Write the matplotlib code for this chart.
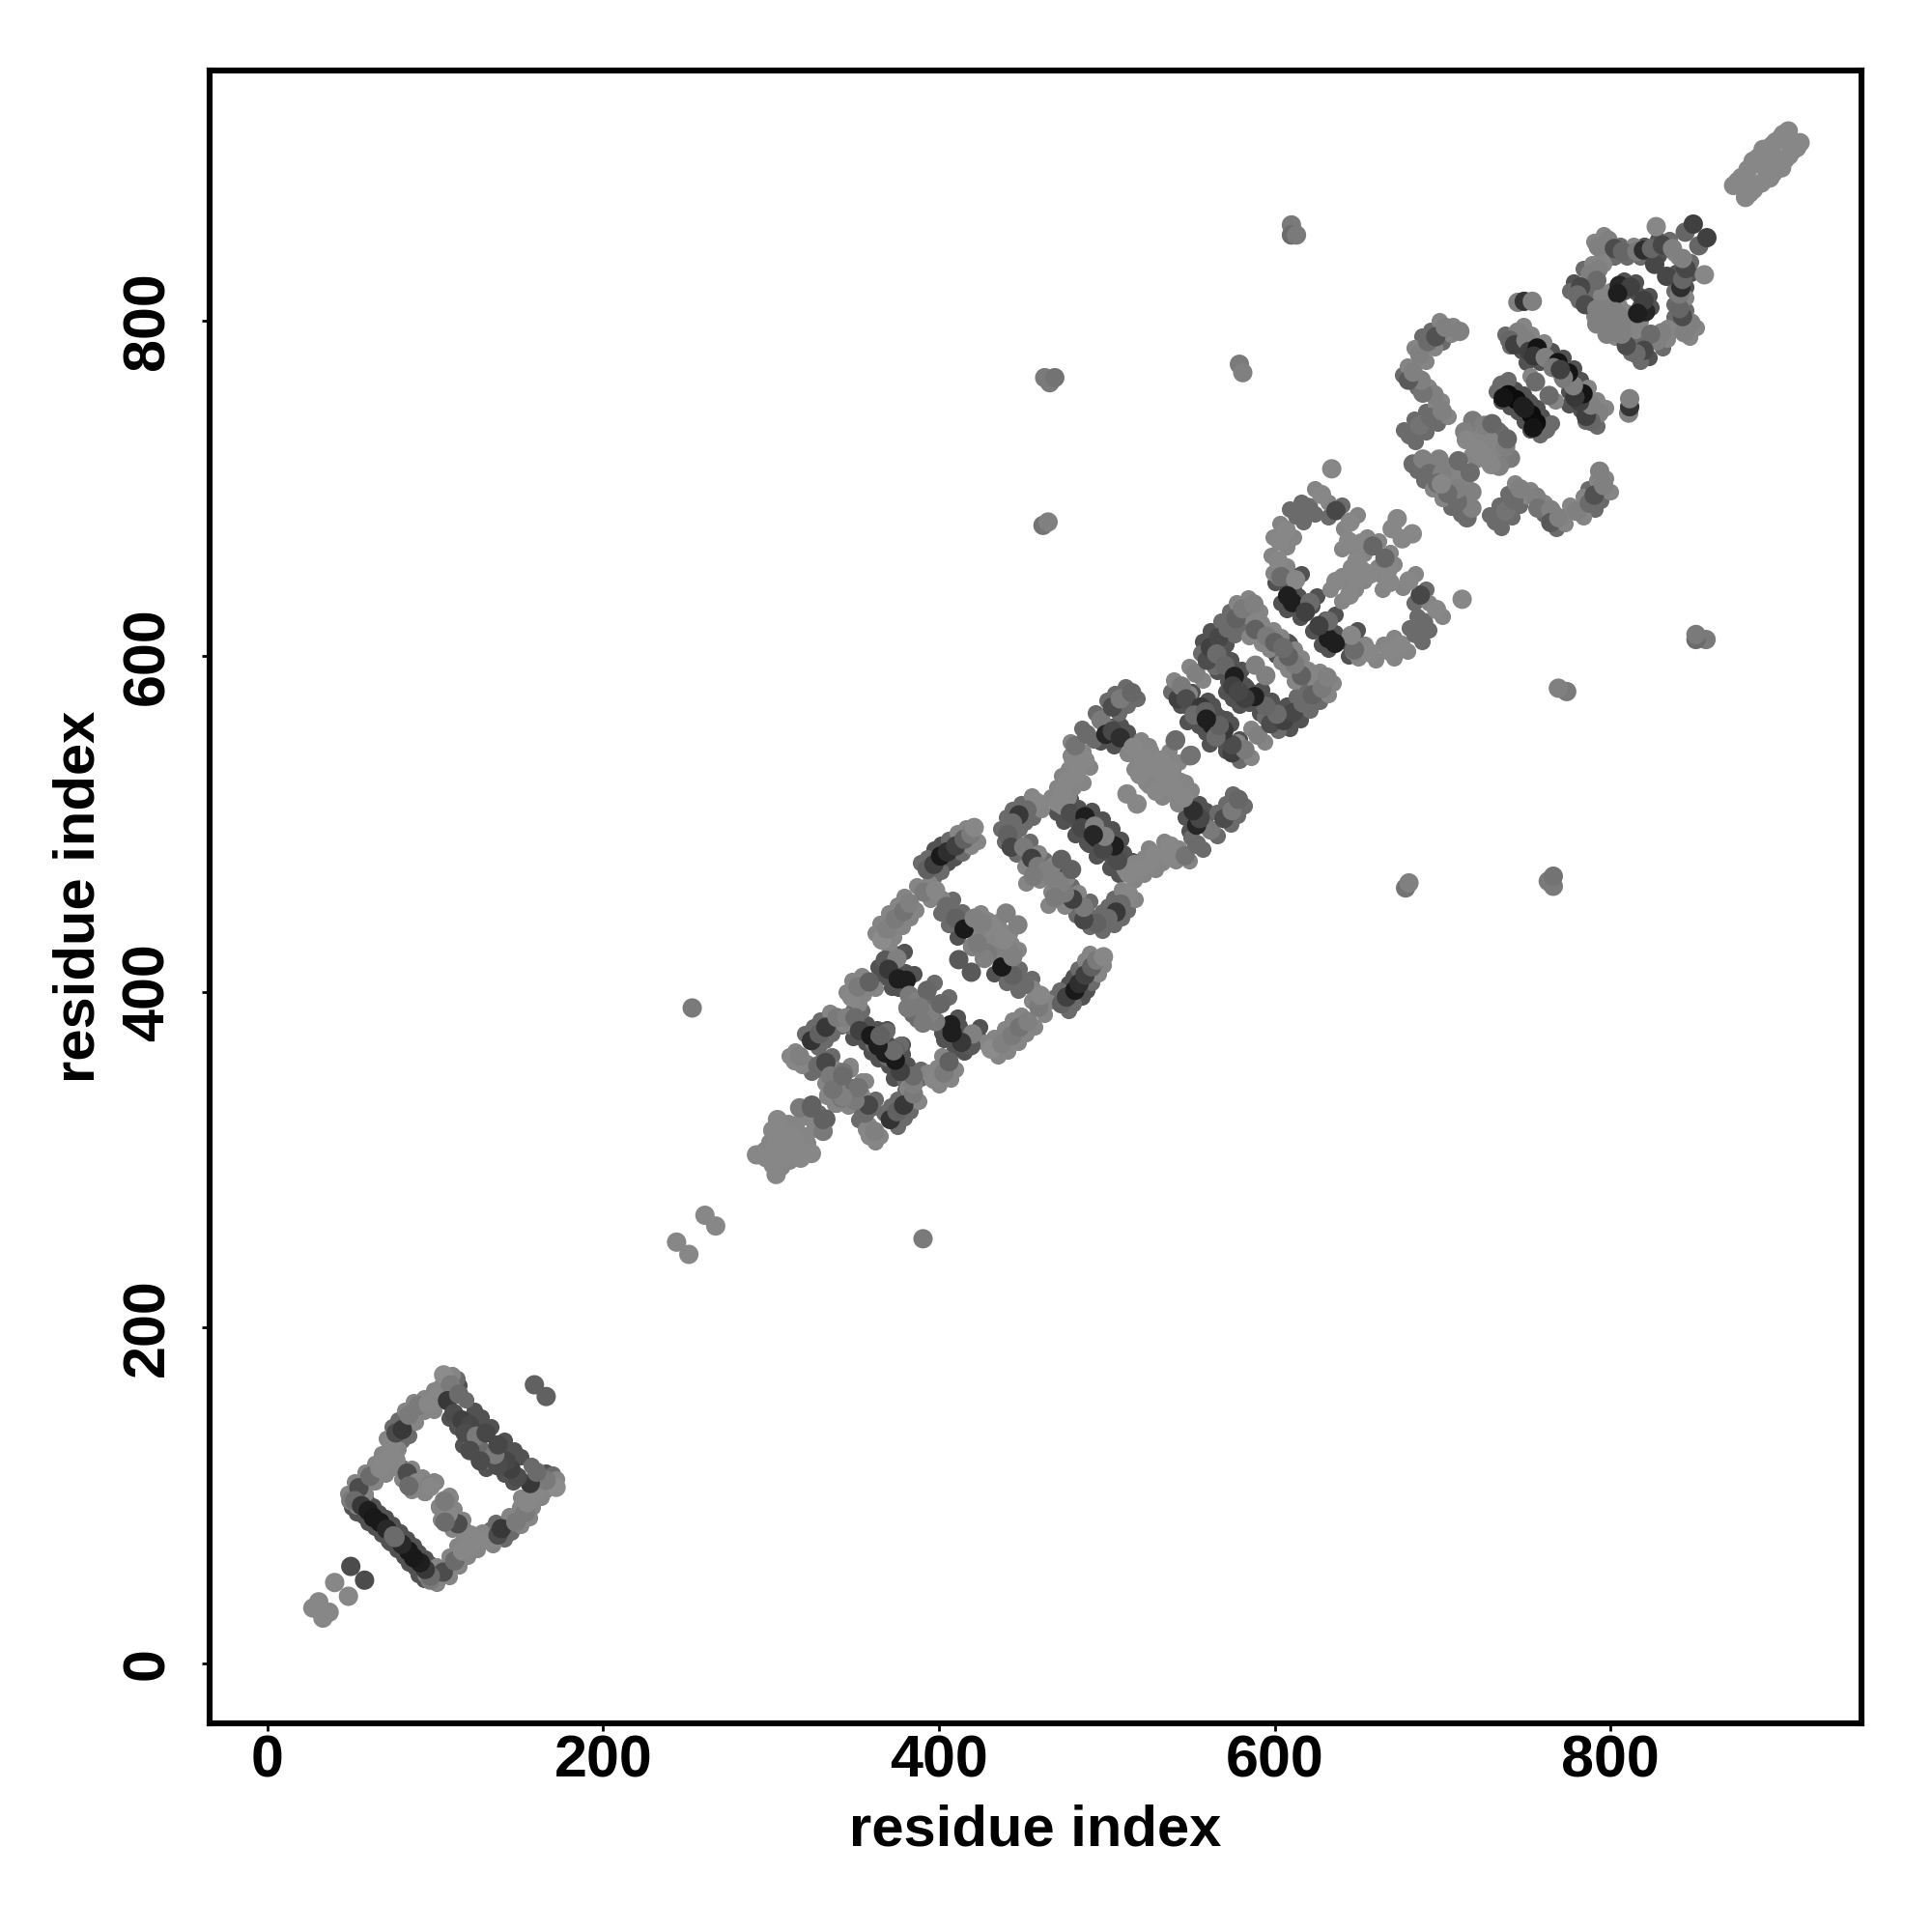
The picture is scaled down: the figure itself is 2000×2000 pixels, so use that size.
#!/usr/bin/env python

import numpy as np
import matplotlib
matplotlib.use("Agg")
import matplotlib.pyplot as plt

# contacts are read off the upper triangle only, the map is symmetric
# score is the gray level of the dot (0 black, 1 white)

# isolated contacts
lone_x = [27, 30.5, 40, 49.6, 159, 243.7, 260.6, 253, 462, 465, 463, 466, 469, 579, 581, 610, 610, 613, 634]
lone_y = [33, 36.7, 48.2, 57.8, 166, 251, 267, 390.5, 678, 680, 766, 763, 766, 774, 769, 857, 851, 851, 711.7]
lone_s = [0.53, 0.53, 0.53, 0.30, 0.38, 0.53, 0.53, 0.48, 0.45, 0.50, 0.48, 0.48, 0.45, 0.48, 0.50, 0.48, 0.42, 0.48, 0.53]

# first domain, 50-170
dom1_x = [49.6, 54.4, 61.1, 66.9, 70.7, 76.5, 73.6, 76.5, 80.3, 84.2, 89.9, 95.7, 101.4,
          52, 56, 60, 63, 67, 71, 75,
          83.2, 89, 84.2, 96.6, 105.3,
          104.9, 109, 107.2, 111, 115.8, 120.6, 117.7, 124.4, 130.2, 120.6, 113.9]
dom1_y = [97, 104.7, 111.5, 116.2, 121, 121, 130.6, 137.3, 139.3, 147.9, 153.6, 154.6, 159.4,
          97, 94, 91, 87, 84, 80, 76,
          113.4, 107.6, 105.7, 105.7, 97,
          171.9, 166, 156.5, 148.9, 145, 142.1, 137.3, 135.4, 137.3, 126.8, 160.4]
dom1_s = [0.48, 0.30, 0.42, 0.53, 0.53, 0.53, 0.53, 0.30, 0.22, 0.48, 0.48, 0.53, 0.53,
          0.42, 0.22, 0.12, 0.10, 0.10, 0.16, 0.42,
          0.30, 0.53, 0.42, 0.48, 0.53,
          0.55, 0.48, 0.22, 0.30, 0.25, 0.28, 0.30, 0.48, 0.28, 0.30, 0.42]

# cluster near 300 and the first long repeat
dom2_x = [291.3, 297, 301, 302, 303.8, 304.8, 307.6, 313.4, 317, 324, 332.6,
          314.3, 317, 324, 328.7, 332.6, 339.3, 348, 351.7, 358.5,
          327.8, 332.6, 335.4, 343, 337.4, 342, 350,
          345, 350, 352.7, 359.4, 365, 368, 374]
dom2_y = [303, 301.3, 317.6, 308, 324, 308, 315.7, 313.8, 331, 331, 324.3,
          359, 361.7, 371, 375, 379, 384.8, 397, 403, 406,
          356, 358, 350, 352, 342.6, 336.8, 342.6,
          384.7, 384.7, 377, 374, 373, 363.7, 365]
dom2_s = [0.53, 0.53, 0.53, 0.53, 0.53, 0.53, 0.53, 0.53, 0.48, 0.38, 0.38,
          0.53, 0.50, 0.20, 0.38, 0.22, 0.48, 0.53, 0.48, 0.38,
          0.42, 0.28, 0.48, 0.45, 0.50, 0.45, 0.42,
          0.50, 0.42, 0.25, 0.10, 0.42, 0.12, 0.38]

dom3_x = [368, 375, 370, 375.7, 380.5, 382.4, 387, 391, 393, 381.5,
          366, 369, 374, 379, 382.5, 391, 398,
          393, 397, 401, 405, 410, 415, 419, 421,
          404.5, 410, 415, 421, 425.6, 431, 420, 429, 439, 441, 440, 411.8]
dom3_y = [419, 420, 413.5, 407.8, 407, 398, 394.4, 388.6, 401, 390.5,
          431, 437.5, 443.5, 448, 453, 459.5, 460.5,
          473, 476, 481, 483.5, 487, 491, 494, 498,
          451, 444, 437.5, 444, 440, 439, 427, 423, 432, 426, 447, 419.3]
dom3_s = [0.35, 0.50, 0.22, 0.12, 0.12, 0.48, 0.50, 0.48, 0.40, 0.48,
          0.55, 0.50, 0.48, 0.45, 0.50, 0.48, 0.53,
          0.38, 0.25, 0.10, 0.18, 0.25, 0.38, 0.48, 0.53,
          0.42, 0.38, 0.10, 0.50, 0.50, 0.53, 0.50, 0.48, 0.53, 0.50, 0.50, 0.35]

dom4_x = [458.2, 452.4, 447.6, 443.8, 441, 443,
          450.5, 455.3, 459, 464, 456.3, 467.8, 473,
          470.7, 473.5, 476.4, 482, 480.2, 487, 481.2, 488, 496.5, 503.3, 508, 514.8,
          473.5, 478.3, 487, 485, 492.7, 493.7,
          499.4, 503.3, 508, 515.7, 521.5, 527.2, 532, 540.7, 550.2, 519.6, 512]
dom4_y = [513, 508.4, 505.5, 500.7, 494, 486.3,
          486.3, 479.6, 474.8, 472, 469, 468, 479,
          513, 519, 525.7, 528.5, 538, 538, 546.7, 553.5, 562, 569.8, 574.6, 578.4,
          511.3, 506.5, 504.5, 497.8, 498.8, 492,
          553.5, 555.4, 551.5, 545.8, 540, 534.3, 538, 549.6, 541, 529.5, 518]
dom4_s = [0.53, 0.42, 0.22, 0.42, 0.38, 0.28,
          0.48, 0.25, 0.48, 0.50, 0.48, 0.50, 0.38,
          0.53, 0.53, 0.53, 0.53, 0.53, 0.53, 0.45, 0.42, 0.48, 0.30, 0.48, 0.40,
          0.53, 0.30, 0.12, 0.28, 0.50, 0.15,
          0.15, 0.28, 0.18, 0.53, 0.53, 0.53, 0.53, 0.45, 0.42, 0.53, 0.53]

dom5_x = [542.5, 544.4, 553, 559.8, 561.7, 566.5, 572.2, 577, 580.9, 587.6,
          547.3, 556, 552, 558.8, 562.6,
          565.5, 570.3, 576, 575, 579,
          588.5, 595.2, 600, 604.8, 588.5]
dom5_y = [574.6, 582.3, 590, 597.6, 605.3, 611, 616.8, 622.5, 628.3, 631.2,
          574.6, 569.8, 565, 567, 559.3,
          601.4, 594.7, 588, 582.3, 578.4,
          616, 612, 608.2, 605.3, 594.7]
dom5_s = [0.25, 0.48, 0.50, 0.30, 0.25, 0.28, 0.42, 0.38, 0.48, 0.50,
          0.30, 0.22, 0.42, 0.38, 0.12,
          0.42, 0.40, 0.12, 0.25, 0.28,
          0.38, 0.48, 0.38, 0.42, 0.50]

dom6_x = [603, 602, 603, 606.8, 613.5, 620.2, 627.9,
          636.5, 645, 644, 651.8, 658.5, 649, 646, 636.5, 648, 673, 670,
          603.9, 612.5, 607.7, 610.6, 621, 618.3]
dom6_y = [647.5, 657, 668.6, 675.3, 684, 688.7, 696.4,
          686.8, 680, 668.6, 667.6, 665.7, 657, 649.4, 644.6, 647.5, 682, 676,
          647.5, 645.6, 636, 632, 632, 626.4]
dom6_s = [0.50, 0.53, 0.53, 0.53, 0.42, 0.42, 0.53,
          0.28, 0.53, 0.53, 0.53, 0.40, 0.53, 0.53, 0.53, 0.53, 0.53, 0.53,
          0.42, 0.53, 0.12, 0.12, 0.42, 0.25]

dom7_x = [680.6, 686.4, 693, 699.8, 695, 688.3, 687.3, 679.7, 682.5, 686.4, 691.2, 696, 701.7, 710.3,
          718, 713.2, 724.7, 729.5, 720, 714.2, 709.4, 682.5, 688.3, 697.9, 692, 699.8, 697, 702.7,
          744.9, 740, 743, 749.7, 751.6, 756.4, 754.4, 761.2, 768.8, 766, 770.8, 755.4,
          735.3, 739.1, 743.9, 747.7, 736.2, 744.9, 748.7, 753.5]
dom7_y = [731.9, 737.6, 742.4, 746.2, 755.8, 756.8, 764.5, 764.5, 769.3, 779.8, 787.5, 790.4, 796, 793.6,
          740.5, 733.8, 737.6, 738.6, 724, 729, 716.5, 714.6, 717.5, 717.5, 708.9, 708.9, 703.1, 699.3,
          793.2, 788.4, 785.6, 788.4, 781.7, 783.7, 778.9, 778, 775, 772, 770.2, 763.5,
          761.6, 755.8, 752.9, 749, 754, 810.9, 811.5, 811.5]
dom7_s = [0.42, 0.45, 0.42, 0.50, 0.50, 0.45, 0.50, 0.35, 0.50, 0.50, 0.42, 0.32, 0.50, 0.50,
          0.48, 0.50, 0.50, 0.40, 0.53, 0.53, 0.42, 0.42, 0.50, 0.50, 0.42, 0.50, 0.42, 0.53,
          0.50, 0.40, 0.25, 0.50, 0.25, 0.08, 0.22, 0.50, 0.08, 0.48, 0.25, 0.42,
          0.42, 0.05, 0.05, 0.12, 0.08, 0.50, 0.20, 0.50]

dom8_x = [792.8, 798.6, 802.4, 807.2, 815.8, 819.7, 826.4, 824.5, 831, 837,
          805.3, 812, 804.3,
          792.8, 788, 791.9, 782.3, 780.3, 785.1, 791.9, 797.6, 791.9, 798.6, 805.3,
          827.3, 844.6, 849.4]
dom8_y = [844, 848, 843, 841.2, 841.2, 842, 833.5, 843, 845, 843,
          821, 820, 816.2,
          830.6, 827.8, 824, 820, 815.3, 809.5, 806.7, 806.7, 798, 797, 802.8,
          856, 852.7, 857.5]
dom8_s = [0.50, 0.50, 0.30, 0.40, 0.48, 0.18, 0.28, 0.40, 0.28, 0.50,
          0.15, 0.25, 0.12,
          0.50, 0.50, 0.42, 0.28, 0.42, 0.30, 0.50, 0.50, 0.50, 0.50, 0.50,
          0.53, 0.40, 0.25]

# C terminal stretch along the diagonal
dom9_x = [873.4, 878.2, 885, 893.6, 898.4, 901.2, 906, 876, 882, 888, 891, 896, 903, 881, 890, 896]
dom9_y = [880.5, 885.3, 895, 900.6, 906.4, 908.3, 913, 883, 890, 897, 902, 904, 911, 884, 893, 899]
dom9_s = [0.53, 0.53, 0.53, 0.53, 0.53, 0.53, 0.53, 0.53, 0.53, 0.53, 0.53, 0.53, 0.53, 0.53, 0.53, 0.53]

# the rows at the edge of each band, lying under the dots above
rim_light = [(48, 101), (52, 108), (58, 114), (64, 119), (68, 125), (71, 134), (82, 151), (87, 156), (93, 158), (99, 163),
             (53, 94), (58, 101), (64, 108), (70, 113), (75, 117), (78, 128), (88, 144), (93, 150), (99, 151),
             (86, 116), (92, 111), (99, 109), (108, 100), (80, 110), (86, 103), (93, 102), (102, 94),
             (110, 172), (103, 165),
             (299, 311), (305, 320), (310, 322), (308, 305), (314, 320), (318, 325), (312, 307), (296, 306), (322, 326),
             (320, 315), (316, 309),
             (311, 362), (314, 365), (335, 388), (345, 400), (348, 407), (354, 410), (318, 356), (321, 358), (343, 381),
             (352, 393), (355, 399), (362, 402),
             (339, 354), (347, 356), (341, 346), (346, 341), (354, 347), (332, 346), (339, 348), (333, 339), (338, 333), (346, 338),
             (362, 435), (365, 441), (370, 447), (375, 452), (379, 457), (387, 463), (394, 465),
             (370, 427), (373, 433), (378, 439), (383, 444), (386, 449), (395, 455), (402, 456),
             (411, 495), (416, 498), (419, 487), (423, 490),
             (419, 441), (425, 447), (429, 443), (435, 442), (423, 430), (433, 427), (435, 422), (425, 434), (437, 437), (431, 431),
             (455, 517), (461, 509), (459, 483), (468, 476), (451, 475), (460, 467), (452, 465),
             (467, 516), (470, 522), (473, 529), (477, 533), (478, 541), (478, 549), (475, 510), (477, 516), (480, 522),
             (486, 525), (484, 535), (490, 534), (486, 543),
             (520, 550), (526, 544), (532, 539), (537, 543), (525, 547), (512, 542), (518, 536), (523, 530), (528, 532),
             (516, 533), (523, 525), (534, 531), (540, 535), (528, 538),
             (540, 586), (549, 594), (584, 635), (577, 632), (549, 578), (557, 586), (591, 627), (585, 624),
             (592, 620), (599, 616), (604, 612), (585, 612), (592, 608), (597, 604),
             (599, 650), (598, 660), (599, 671), (603, 679), (624, 700), (607, 654), (607, 665), (611, 671), (632, 692),
             (649, 684), (655, 671), (662, 669), (653, 661), (650, 652), (641, 676), (640, 664), (648, 664), (645, 653), (642, 646),
             (640, 648), (633, 640), (644, 643), (652, 652),
             (696, 750), (692, 760), (683, 768), (679, 773), (683, 784), (698, 800), (706, 797), (703, 743), (699, 752),
             (691, 761), (686, 766), (690, 776), (695, 784), (705, 792),
             (716, 736), (721, 730), (726, 733), (724, 720), (730, 728), (717, 720), (691, 713), (701, 714), (696, 705),
             (694, 700), (700, 696), (706, 708), (712, 704), (714, 700),
             (748, 797), (753, 792), (760, 787), (752, 767), (789, 834), (796, 834), (790, 847), (796, 851), (814, 845),
             (795, 840), (802, 806), (795, 802), (800, 800), (790, 803), (794, 815), (798, 812), (805, 809), (800, 818), (838, 840)]

rim_mid = [(74, 141), (78, 145), (80, 133), (84, 136), (80, 117), (113, 170), (104, 159), (118, 157), (121, 132), (126, 130),
           (328, 328), (320, 375), (325, 379), (329, 383), (328, 367), (332, 371), (336, 375),
           (349, 389), (354, 389), (342, 380), (347, 380), (369, 377), (361, 369), (331, 360), (336, 362), (324, 352), (329, 354),
           (389, 477), (393, 480), (397, 469), (401, 472), (406, 491), (414, 483), (397, 406), (395, 393), (387, 384),
           (408, 455), (414, 448), (401, 447), (406, 440), (417, 440),
           (449, 512), (444, 509), (440, 504), (437, 497), (439, 490), (456, 504), (451, 501), (448, 497), (445, 491), (447, 483),
           (454, 490), (463, 479), (446, 482), (455, 471),
           (485, 557), (493, 566), (500, 574), (505, 578), (511, 582), (492, 550), (500, 558), (507, 566), (512, 571), (518, 575),
           (538, 579), (556, 602), (573, 627), (581, 619), (564, 594), (568, 621), (576, 613),
           (609, 688), (616, 692), (617, 680), (624, 685), (640, 690), (632, 683),
           (677, 735), (683, 741), (690, 746), (684, 728), (690, 734), (697, 739), (685, 760), (676, 768), (688, 791), (693, 794),
           (700, 787), (733, 735), (706, 712), (685, 711), (689, 705),
           (739, 765), (732, 758), (755, 785), (737, 792), (740, 785), (765, 772),
           (784, 831), (787, 828), (776, 818), (786, 818), (789, 814), (781, 812), (788, 810), (791, 821),
           (800, 846), (806, 845), (802, 838), (810, 838), (818, 838), (835, 848)]

rim_dark = [(55, 100), (59, 97), (63, 94), (66, 90), (70, 87), (74, 83), (78, 79), (50, 93), (53, 90), (57, 88), (60, 84), (64, 81), (68, 77), (72, 73),
            (114, 166), (123, 151), (127, 147), (133, 141), (124, 141), (108, 146), (113, 141), (117, 139), (116, 130),
            (357, 381), (363, 378), (372, 368), (378, 369), (349, 373), (356, 370), (364, 360), (370, 361),
            (372, 424), (379, 424), (374, 418), (380, 412), (385, 411), (364, 415), (371, 416), (366, 409), (372, 403), (376, 402),
            (401, 488), (405, 477), (409, 480), (397, 485), (411, 433),
            (472, 472), (478, 515), (483, 510), (491, 508), (490, 502), (497, 503), (498, 496), (470, 507), (474, 502), (483, 500), (481, 494), (489, 494), (489, 488),
            (503, 558), (508, 559), (512, 555), (496, 549), (499, 551), (504, 547),
            (547, 571), (557, 609), (562, 615), (566, 601), (571, 607), (551, 579), (560, 574), (556, 569), (563, 571), (567, 564),
            (544, 571), (552, 565), (548, 561), (555, 563), (559, 555), (569, 605), (574, 598), (580, 592), (579, 586), (583, 582),
            (562, 597), (566, 591), (572, 585), (571, 579), (575, 575), (608, 609), (601, 601),
            (608, 651), (616, 649), (611, 640), (614, 636), (625, 636), (622, 630), (600, 644), (609, 642), (604, 632), (607, 628), (617, 628), (615, 623),
            (740, 789), (758, 782), (765, 782), (772, 778), (770, 775), (747, 782), (752, 778), (750, 775), (758, 775),
            (743, 759), (748, 756), (751, 752), (735, 752), (740, 749), (745, 746),
            (778, 823), (808, 824), (815, 823), (801, 818), (808, 817), (815, 817), (820, 845), (828, 848), (829, 839)]

contacts_x = [lone_x, dom1_x, dom2_x, dom3_x, dom4_x, dom5_x, dom6_x, dom7_x, dom8_x, dom9_x]
contacts_y = [lone_y, dom1_y, dom2_y, dom3_y, dom4_y, dom5_y, dom6_y, dom7_y, dom8_y, dom9_y]
contacts_s = [lone_s, dom1_s, dom2_s, dom3_s, dom4_s, dom5_s, dom6_s, dom7_s, dom8_s, dom9_s]

rims = [rim_dark, rim_mid, rim_light]
rim_scores = [0.32, 0.42, 0.52]

tick_values = [0, 200, 400, 600, 800]


def main():
    plt.rcParams["font.family"] = ["Liberation Sans", "DejaVu Sans"]
    plt.rcParams["font.weight"] = "bold"

    figure = plt.figure(figsize=(10, 10), dpi=200)
    ax = figure.add_axes([217 / 2000, 1 - 1784 / 2000, (1927 - 217) / 2000, (1784 - 73) / 2000])

    for rim, score in zip(rims, rim_scores):
        xs, ys = np.array(rim).T
        ax.scatter(np.concatenate([xs, ys]), np.concatenate([ys, xs]), color=str(score), s=38, linewidths=0)

    for xs, ys, ss in zip(contacts_x, contacts_y, contacts_s):
        x = np.concatenate([xs, ys])
        y = np.concatenate([ys, xs])
        s = np.concatenate([ss, ss])
        ax.scatter(x, y, c=s, cmap="gray", vmin=0, vmax=1, s=52, linewidths=0)

    ax.set_xlim(-34.5, 949.6)
    ax.set_ylim(-35.7, 949)

    ax.set_xticks(tick_values)
    ax.set_yticks(tick_values)
    ax.tick_params(axis="x", length=3, width=1, labelsize=22, pad=1)
    ax.tick_params(axis="y", length=3, width=1, labelsize=22, pad=9.5)
    for label in ax.get_yticklabels():
        label.set_rotation(90)
        label.set_va("center")

    for spine in ax.spines.values():
        spine.set_linewidth(2.2)

    ax.set_xlabel("residue index", fontsize=21.5, fontweight="bold", labelpad=5.5)
    ax.set_ylabel("residue index", fontsize=21.5, fontweight="bold", labelpad=5.5)

    figure.savefig("out.png", dpi=200, facecolor="white")


main()
